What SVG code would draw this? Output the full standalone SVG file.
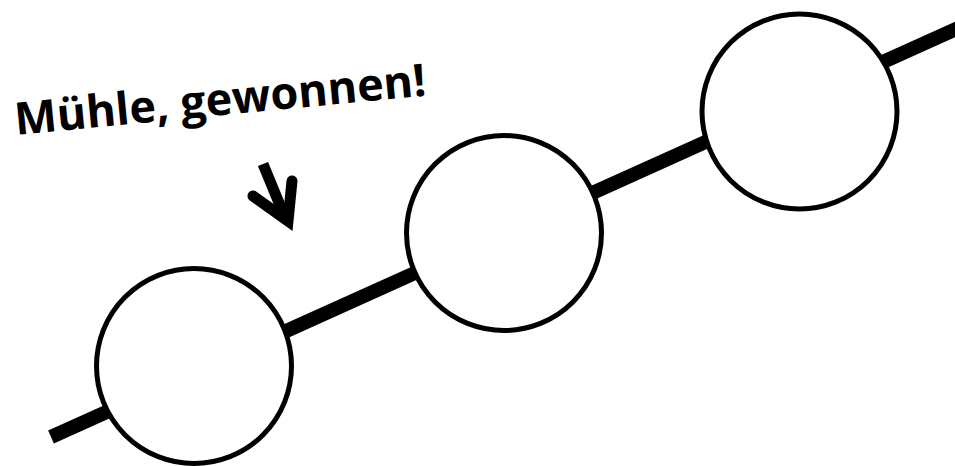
<svg xmlns="http://www.w3.org/2000/svg" width="955" height="466" viewBox="0 0 955 466">
<style>
.node{fill:#fff;stroke:#000;stroke-width:5}
.label{font-family:"Open Sans","Liberation Sans",sans-serif;font-weight:bold;font-size:45px;fill:#000}
</style>
<rect width="955" height="466" fill="#fff"/>
<g id="connectors">
<line x1="51" y1="437" x2="965" y2="25" stroke="#000" stroke-width="14"/>
</g>
<g id="node1"><circle class="node" cx="194" cy="366" r="97.5"/></g>
<g id="node2"><circle class="node" cx="504" cy="233" r="97.5"/></g>
<g id="node3"><circle class="node" cx="799.5" cy="111.5" r="97.5"/></g>
<g id="label"><text class="label" transform="translate(16,135) rotate(-5.5)">Mühle, gewonnen!</text></g>
<g id="arrow" fill="none" stroke="#000" stroke-width="11">
<path d="M263,164 L284,215" stroke-linecap="butt"/>
<path d="M253,196 L288,221 L292,181" stroke-linecap="round" stroke-linejoin="miter" stroke-miterlimit="10"/>
</g>
</svg>
